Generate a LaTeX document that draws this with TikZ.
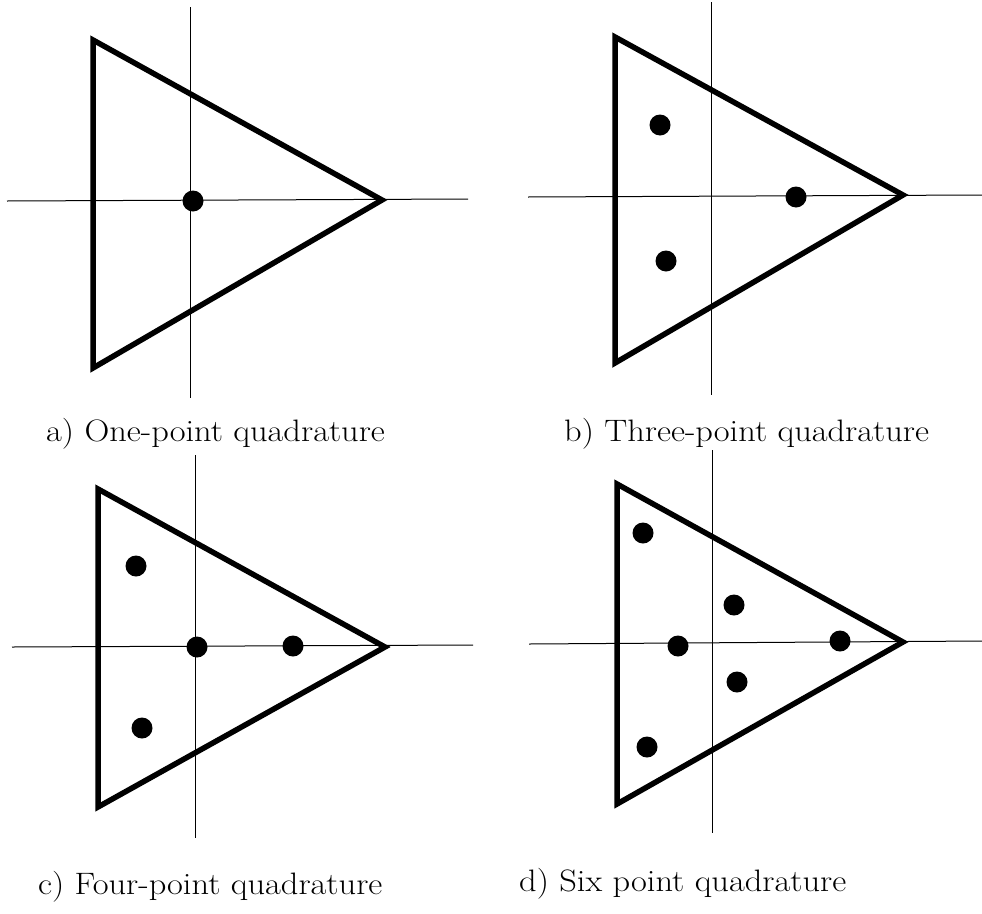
\documentclass[tikz,border=0pt]{standalone}
\usepackage{graphicx}
\tikzset{
  axisline/.style={line width=1pt, black},
  triline/.style={line width=5.5pt, black, line join=miter},
  qdot/.style={circle, fill=black, draw=none, inner sep=0pt, minimum size=21pt},
  caplabel/.style={anchor=base west, inner sep=0pt, font=\fontsize{31}{36}\selectfont}
}
\newcommand{\widetext}[1]{\scalebox{1.11}[1]{#1}}
\begin{document}
\begin{tikzpicture}[x=1pt,y=-1pt]
\useasboundingbox (0,0) rectangle (982,913);
% ---------- panel a ----------
\coordinate (aL) at (7,201);  \coordinate (aR) at (468,199);
\coordinate (aT) at (190,7);  \coordinate (aB) at (190,398);
\draw[axisline] (aL) -- (aR);
\draw[axisline] (aT) -- (aB);
\coordinate (a1) at (93,40); \coordinate (a2) at (93,368); \coordinate (a3) at (382,200);
\draw[triline] (a1) -- (a2) -- (a3) -- cycle;
\node[qdot] (ap1) at (193,201) {};
\node[caplabel] (alab) at (46,441) {\widetext{a) One-point quadrature}};
% ---------- panel b ----------
\coordinate (bL) at (528,197); \coordinate (bR) at (982,195);
\coordinate (bT) at (711,2);   \coordinate (bB) at (711,395);
\draw[axisline] (bL) -- (bR);
\draw[axisline] (bT) -- (bB);
\coordinate (b1) at (615,37); \coordinate (b2) at (615,363); \coordinate (b3) at (903,195);
\draw[triline] (b1) -- (b2) -- (b3) -- cycle;
\node[qdot] (bp1) at (660,125) {};
\node[qdot] (bp2) at (796,197) {};
\node[qdot] (bp3) at (666,261) {};
\node[caplabel] (blab) at (564,441) {\widetext{b) Three-point quadrature}};
% ---------- panel c ----------
\coordinate (cL) at (12,647); \coordinate (cR) at (473,645);
\coordinate (cT) at (195,455); \coordinate (cB) at (195,838);
\draw[axisline] (cL) -- (cR);
\draw[axisline] (cT) -- (cB);
\coordinate (c1) at (98,489); \coordinate (c2) at (98,807); \coordinate (c3) at (385,647);
\draw[triline] (c1) -- (c2) -- (c3) -- cycle;
\node[qdot] (cp1) at (136,566) {};
\node[qdot] (cp2) at (197,647) {};
\node[qdot] (cp3) at (293,646) {};
\node[qdot] (cp4) at (142,728) {};
\node[caplabel] (clab) at (38,894) {\widetext{c) Four-point quadrature}};
% ---------- panel d ----------
\coordinate (dL) at (529,644); \coordinate (dR) at (982,641);
\coordinate (dT) at (712,450); \coordinate (dB) at (712,833);
\draw[axisline] (dL) -- (dR);
\draw[axisline] (dT) -- (dB);
\coordinate (d1) at (617,484); \coordinate (d2) at (617,804); \coordinate (d3) at (903,642);
\draw[triline] (d1) -- (d2) -- (d3) -- cycle;
\node[qdot] (dp1) at (643,533) {};
\node[qdot] (dp2) at (734,605) {};
\node[qdot] (dp3) at (678,646) {};
\node[qdot] (dp4) at (840,641) {};
\node[qdot] (dp5) at (737,682) {};
\node[qdot] (dp6) at (647,747) {};
\node[caplabel] (dlab) at (519,891) {\widetext{d) Six point quadrature}};
\end{tikzpicture}
\end{document}
